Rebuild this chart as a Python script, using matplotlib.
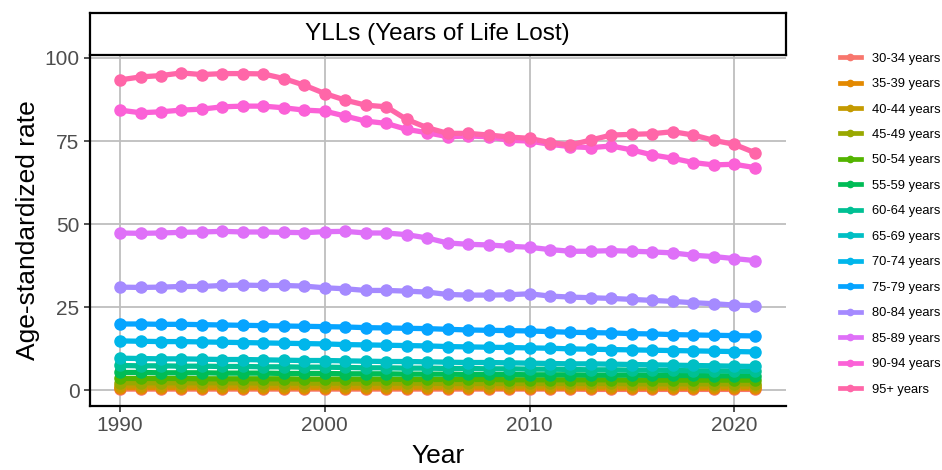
import matplotlib.pyplot as plt
import numpy as np

plt.rcParams["font.family"] = ["Liberation Sans", "DejaVu Sans"]

# Anos
anos = list(range(1990, 2022))

# Faixas etárias
faixas = ["30-34 years", "35-39 years", "40-44 years", "45-49 years", "50-54 years",
          "55-59 years", "60-64 years", "65-69 years", "70-74 years", "75-79 years",
          "80-84 years", "85-89 years", "90-94 years", "95+ years"]

# Taxas padronizadas por idade
v30 = [0.3, 0.3, 0.3, 0.3, 0.3, 0.3, 0.3, 0.3, 0.3, 0.3, 0.3, 0.3, 0.3, 0.3, 0.3, 0.3,
       0.3, 0.3, 0.3, 0.3, 0.3, 0.3, 0.3, 0.2, 0.2, 0.2, 0.2, 0.2, 0.2, 0.2, 0.2, 0.2]
v35 = [0.7, 0.7, 0.7, 0.7, 0.7, 0.7, 0.7, 0.7, 0.7, 0.7, 0.7, 0.7, 0.7, 0.7, 0.7, 0.7,
       0.7, 0.7, 0.6, 0.6, 0.6, 0.6, 0.6, 0.6, 0.6, 0.6, 0.6, 0.6, 0.6, 0.6, 0.6, 0.6]
v40 = [1.3, 1.3, 1.3, 1.3, 1.3, 1.3, 1.3, 1.3, 1.3, 1.3, 1.3, 1.3, 1.2, 1.2, 1.2, 1.2,
       1.2, 1.2, 1.2, 1.2, 1.2, 1.2, 1.2, 1.2, 1.1, 1.1, 1.1, 1.1, 1.1, 1.1, 1.1, 1.1]
v45 = [2.2, 2.2, 2.2, 2.2, 2.2, 2.2, 2.2, 2.1, 2.1, 2.1, 2.1, 2.1, 2.1, 2.1, 2.1, 2.1,
       2.0, 2.0, 2.0, 2.0, 2.0, 2.0, 2.0, 2.0, 2.0, 1.9, 1.9, 1.9, 1.9, 1.9, 1.9, 1.9]
v50 = [3.5, 3.5, 3.5, 3.5, 3.4, 3.4, 3.4, 3.4, 3.4, 3.3, 3.3, 3.3, 3.3, 3.3, 3.2, 3.2,
       3.2, 3.2, 3.2, 3.1, 3.1, 3.1, 3.1, 3.1, 3.1, 3.0, 3.0, 3.0, 3.0, 3.0, 3.0, 3.0]
v55 = [5.3, 5.3, 5.2, 5.2, 5.2, 5.1, 5.1, 5.1, 5.0, 5.0, 5.0, 4.9, 4.9, 4.9, 4.8, 4.8,
       4.8, 4.7, 4.7, 4.7, 4.6, 4.6, 4.6, 4.5, 4.5, 4.5, 4.4, 4.4, 4.4, 4.3, 4.3, 4.3]
v60 = [7.4, 7.3, 7.3, 7.2, 7.2, 7.1, 7.1, 7.0, 7.0, 6.9, 6.9, 6.8, 6.7, 6.7, 6.6, 6.6,
       6.5, 6.5, 6.4, 6.4, 6.3, 6.3, 6.2, 6.1, 6.1, 6.0, 6.0, 5.9, 5.8, 5.8, 5.7, 5.6]
v65 = [9.6, 9.5, 9.4, 9.4, 9.3, 9.2, 9.2, 9.1, 9.0, 8.9, 8.9, 8.8, 8.7, 8.6, 8.6, 8.5,
       8.4, 8.3, 8.3, 8.2, 8.1, 8.0, 7.9, 7.9, 7.8, 7.7, 7.6, 7.5, 7.4, 7.3, 7.2, 7.1]
v70 = [14.8, 14.7, 14.6, 14.6, 14.5, 14.4, 14.3, 14.2, 14.1, 14.0, 13.9, 13.7, 13.6, 13.5,
       13.4, 13.3, 13.1, 13.0, 12.9, 12.8, 12.7, 12.6, 12.4, 12.3, 12.2, 12.1, 12.0, 11.9,
       11.8, 11.7, 11.6, 11.5]
v75 = [19.9, 19.9, 19.8, 19.8, 19.7, 19.6, 19.5, 19.4, 19.3, 19.2, 19.1, 19.0, 18.8, 18.7,
       18.6, 18.5, 18.3, 18.1, 18.0, 17.9, 17.8, 17.6, 17.4, 17.3, 17.2, 17.0, 16.9, 16.7,
       16.6, 16.5, 16.4, 16.3]
v80 = [31.0, 30.9, 31.0, 31.2, 31.2, 31.5, 31.6, 31.5, 31.5, 31.3, 30.8, 30.5, 30.0, 30.0,
       29.8, 29.5, 28.8, 28.6, 28.6, 28.7, 29.0, 28.3, 28.0, 27.8, 27.6, 27.3, 27.0, 26.7,
       26.3, 26.0, 25.6, 25.4]
v85 = [47.3, 47.2, 47.3, 47.5, 47.6, 47.8, 47.6, 47.6, 47.5, 47.4, 47.7, 47.8, 47.3, 47.3,
       46.8, 45.8, 44.3, 43.9, 43.7, 43.3, 43.0, 42.3, 41.8, 41.8, 42.0, 41.8, 41.6, 41.3,
       40.6, 40.2, 39.6, 39.0]
v90 = [84.3, 83.5, 83.8, 84.3, 84.6, 85.3, 85.5, 85.5, 85.0, 84.3, 84.0, 82.5, 81.0, 80.3,
       78.5, 77.5, 76.3, 76.5, 76.3, 75.2, 75.0, 74.0, 73.3, 73.0, 73.5, 72.3, 70.8, 69.8,
       68.5, 67.8, 68.0, 67.0]
v95 = [93.4, 94.3, 94.7, 95.5, 95.0, 95.3, 95.3, 95.2, 93.8, 91.8, 89.3, 87.3, 85.8, 85.3,
       81.5, 79.0, 77.3, 77.3, 76.8, 76.2, 75.8, 74.5, 73.8, 75.3, 76.8, 77.0, 77.2, 77.8,
       76.8, 75.2, 74.0, 71.5]

series = [v30, v35, v40, v45, v50, v55, v60, v65, v70, v75, v80, v85, v90, v95]


# Paleta "hue" do ggplot: HCL com L=65, C=100
def hue_pal(n, l=65.0, c=100.0):
    xn, yn, zn = 95.047, 100.0, 108.883
    un = 4 * xn / (xn + 15 * yn + 3 * zn)
    vn = 9 * yn / (xn + 15 * yn + 3 * zn)
    m = np.array([[3.240479, -1.537150, -0.498535],
                  [-0.969256, 1.875992, 0.041556],
                  [0.055648, -0.204043, 1.057311]])
    cores = []
    for h in np.linspace(15, 375, n + 1)[:-1]:
        u = c * np.cos(np.radians(h))
        v = c * np.sin(np.radians(h))
        Y = yn * ((l + 16) / 116) ** 3
        up = u / (13 * l) + un
        vp = v / (13 * l) + vn
        X = 9.0 * Y * up / (4 * vp)
        Z = -X / 3 - 5 * Y + 3 * Y / vp
        rgb = m @ (np.array([X, Y, Z]) / 100)
        rgb = np.where(rgb > 0.0031308, 1.055 * np.abs(rgb) ** (1 / 2.4) - 0.055, 12.92 * rgb)
        cores.append(tuple(np.clip(rgb, 0, 1)))
    return cores


cores = hue_pal(len(faixas))

fig = plt.figure(figsize=(9.42, 4.70), dpi=100)
ax = fig.add_axes([0.0955, 0.136, 0.7385, 0.747])

# Linhas primeiro, depois os pontos (como no ggplot)
for vals, cor in zip(series, cores):
    ax.plot(anos, vals, color=cor, linewidth=3.8, solid_capstyle="round", zorder=2)
for vals, cor in zip(series, cores):
    ax.plot(anos, vals, linestyle="none", marker="o", markersize=8, color=cor, zorder=3)

ax.set_xlim(1988.53, 2022.51)
ax.set_ylim(-4.82, 100.9)
ax.set_xticks([1990, 2000, 2010, 2020])
ax.set_yticks([0, 25, 50, 75, 100])
ax.grid(True, color="#BEBEBE", linewidth=1.3)
ax.set_axisbelow(True)

for lado in ["top", "right"]:
    ax.spines[lado].set_visible(False)
for lado in ["left", "bottom"]:
    ax.spines[lado].set_linewidth(1.6)
    ax.spines[lado].set_color("black")

ax.tick_params(axis="both", labelsize=15, labelcolor="#4D4D4D", color="#333333",
               length=4, width=1.2)
ax.set_xlabel("Year", fontsize=19, labelpad=6)
ax.set_ylabel("Age-standardized rate", fontsize=19, labelpad=3)

# Faixa do título (estilo facet do ggplot)
tira = fig.add_axes([0.0955, 0.883, 0.7385, 0.089])
tira.set_xticks([])
tira.set_yticks([])
for s in tira.spines.values():
    s.set_linewidth(1.6)
    s.set_color("black")
tira.text(0.5, 0.5, "YLLs (Years of Life Lost)", ha="center", va="center", fontsize=17.5)

# Legenda
handles = [plt.Line2D([], [], color=c, linewidth=3.4, marker="o", markersize=4.5) for c in cores]
fig.legend(handles, faixas, loc="upper left", bbox_to_anchor=(0.885, 0.902),
           frameon=False, fontsize=9.3, handlelength=1.6, handletextpad=0.85,
           labelspacing=1.04, borderpad=0)

plt.savefig("out.png", dpi=100)
